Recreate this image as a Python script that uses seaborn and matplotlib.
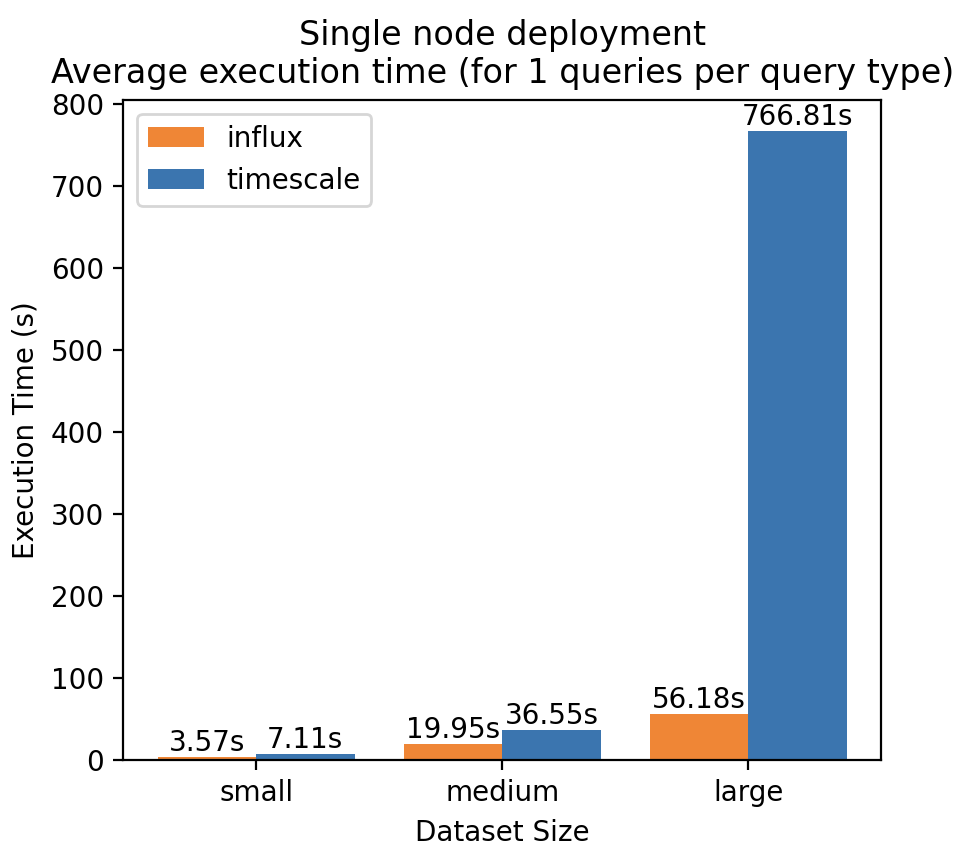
import pandas as pd
import matplotlib
matplotlib.use('Agg')
import matplotlib.pyplot as plt
import seaborn as sns

# values
sizes = ['small', 'medium', 'large']
influx_times = [3.57, 19.95, 56.18]
timescale_times = [7.11, 36.55, 766.81]

df = pd.DataFrame({
    'Dataset Size': sizes * 2,
    'Execution Time (s)': influx_times + timescale_times,
    'Database': ['influx'] * 3 + ['timescale'] * 3,
})

fig = plt.figure(figsize=(4.89, 4.26), dpi=200)
ax = fig.add_axes([0.126, 0.108, 0.775, 0.775])
sns.barplot(data=df, x='Dataset Size', y='Execution Time (s)', hue='Database',
            palette=['#ef8636', '#3b75af'], saturation=1, width=0.8, ax=ax)

for cont in ax.containers:
    ax.bar_label(cont, fmt='%.2fs', fontsize=10)

ax.set_xlim(-0.54, 2.54)
ax.set_ylim(0, 805)
ax.set_title('Single node deployment\nAverage execution time (for 1 queries per query type)')
ax.set_xlabel('Dataset Size')
ax.set_ylabel('Execution Time (s)')
ax.legend(title=None, loc='upper left')

plt.savefig('out.png')
